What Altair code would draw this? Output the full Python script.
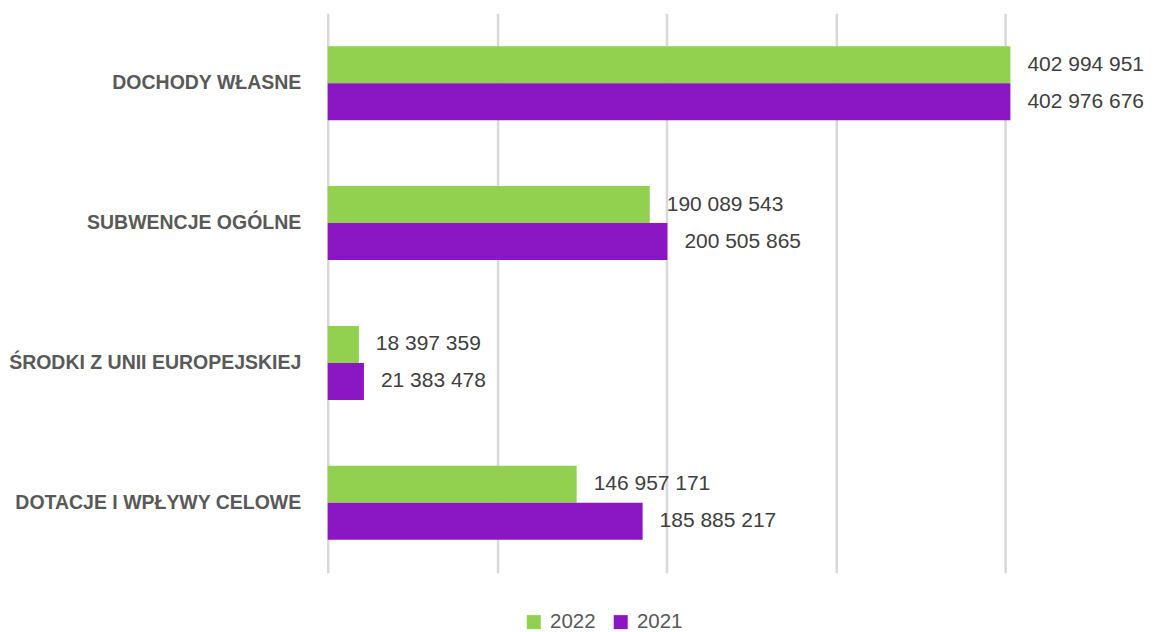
import altair as alt
import pandas as pd

categories = ["DOCHODY WŁASNE", "SUBWENCJE OGÓLNE", "ŚRODKI Z UNII EUROPEJSKIEJ", "DOTACJE I WPŁYWY CELOWE"]
years = ["2022", "2021"]
values_2022 = [402994951, 190089543, 18397359, 146957171]
values_2021 = [402976676, 200505865, 21383478, 185885217]
grid_values = [0, 100000000, 200000000, 300000000, 400000000]

GREEN = "#92D050"
PURPLE = "#8B17C4"
FONT = "Liberation Sans"

rows = []
for cat, a, b in zip(categories, values_2022, values_2021):
    for yr, v in (("2022", a), ("2021", b)):
        rows.append({"cat": cat, "year": yr, "value": v,
                     "label": f"{v:,}".replace(",", " ")})
df = pd.DataFrame(rows)

base = alt.Chart(df).encode(
    y=alt.Y("cat:N", sort=categories,
            scale=alt.Scale(paddingInner=0.4714, paddingOuter=0.2357),
            axis=alt.Axis(title=None, domain=False, ticks=False, labelPadding=27,
                          labelFont=FONT, labelFontSize=19.5, labelFontWeight="bold",
                          labelColor="#595959", labelLimit=400)),
    yOffset=alt.YOffset("year:N", sort=years,
                        scale=alt.Scale(paddingInner=0, paddingOuter=0)),
)

x_enc = alt.X("value:Q", scale=alt.Scale(domain=[0, 450000000], nice=False),
              axis=alt.Axis(values=grid_values, grid=True, gridColor="#d9d9d9",
                            gridWidth=2.5, labels=False, ticks=False, domain=False,
                            title=None))

bars = base.mark_bar().encode(
    x=x_enc,
    color=alt.Color("year:N", sort=years,
                    scale=alt.Scale(domain=years, range=[GREEN, PURPLE]),
                    legend=alt.Legend(orient="none", legendX=196, legendY=599,
                                      direction="horizontal", title=None,
                                      symbolType="square", symbolSize=196,
                                      symbolStrokeWidth=0, labelFont=FONT,
                                      labelFontSize=20.5, labelColor="#595959",
                                      columnPadding=14, labelOffset=6, padding=0)),
)

text = base.mark_text(align="left", baseline="middle", dx=17, font=FONT,
                      fontSize=21, color="#404040").encode(
    x=alt.X("value:Q"), text="label:N")

chart = (bars + text).properties(
    width=763, height=560,
    autosize=alt.AutoSizeParams(type="none"),
    padding={"left": 320, "top": 5, "right": 70, "bottom": 61},
    background="white",
).configure_view(stroke=None)

chart.save("out.html", embed_options={"renderer": "svg", "actions": False})
